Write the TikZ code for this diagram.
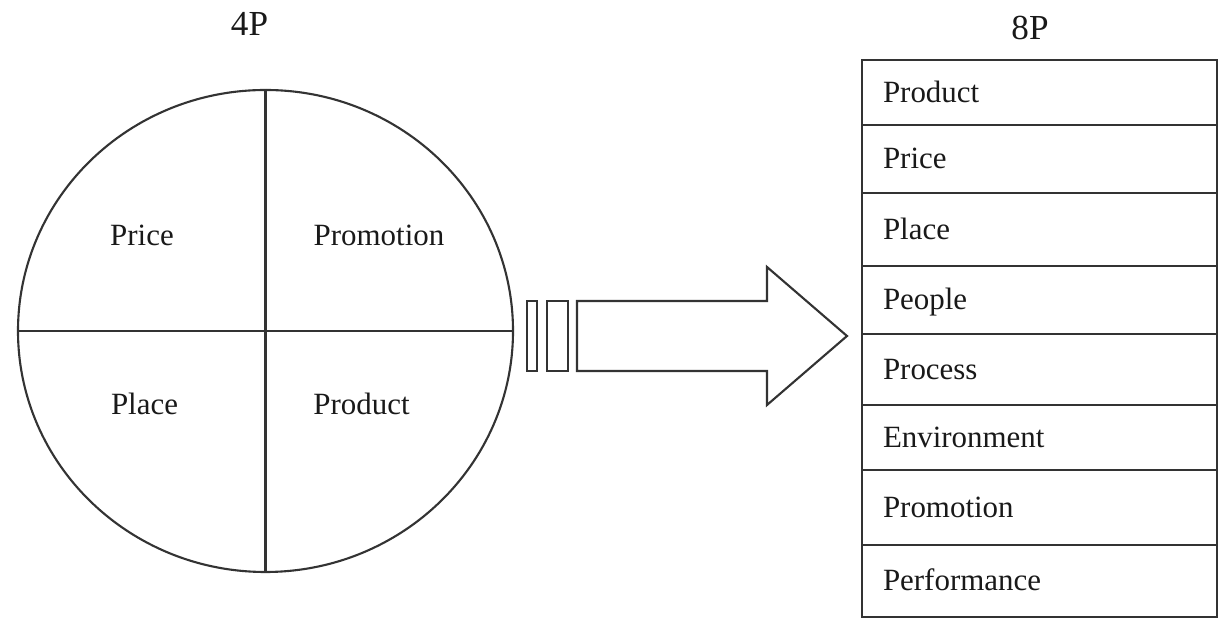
\documentclass[tikz,border=0pt]{standalone}
\usepackage{fontspec}
\setmainfont{Liberation Serif}
\usepackage{tikz}
\usetikzlibrary{shapes.geometric}

\begin{document}
\begin{tikzpicture}[line width=1.2pt,color=black!80,
  label node/.style={font=\fontsize{17.6}{20}\selectfont,text=black!90,text height=12.8pt,text depth=1.5pt,inner sep=0pt},
  title node/.style={font=\fontsize{20}{24}\selectfont,text=black!90,inner sep=0pt},
  row node/.style={label node,draw,rectangle,minimum width=7.1cm,text width=6.26cm,inner xsep=0.42cm,align=left}]

\useasboundingbox (0,0) rectangle (24.4,12.42);

% 4P circle
\node[title node] (t4) at (4.99,11.94) {4P};
\node[draw,ellipse,inner sep=0pt,minimum width=9.9cm,minimum height=9.64cm] (mix) at (5.31,5.80) {};
\draw (mix.north) -- (mix.south);
\draw (mix.west) -- (mix.east);

\node[label node] (q1) at (2.84,7.71) {Price};
\node[label node] (q2) at (7.58,7.71) {Promotion};
\node[label node] (q3) at (2.89,4.32) {Place};
\node[label node] (q4) at (7.23,4.32) {Product};

% block arrow
\draw (10.54,5.00) rectangle (10.74,6.40);
\draw (10.94,5.00) rectangle (11.36,6.40);
\draw (11.54,5.00) -- (11.54,6.40) -- (15.34,6.40) -- (15.34,7.08)
  -- (16.94,5.70) -- (15.34,4.32) -- (15.34,5.00) -- cycle;

% 8P table
\node[title node] (t8) at (20.60,11.87) {8P};
\foreach \name/\txt/\yc/\h in {r1/Product/10.57/1.30, r2/Price/9.24/1.36,
    r3/Place/7.83/1.46, r4/People/6.42/1.36, r5/Process/5.03/1.42,
    r6/Environment/3.67/1.30, r7/Promotion/2.27/1.50, r8/Performance/0.80/1.44}
  \node[row node,minimum height=\h cm] (\name) at (20.79,\yc) {\txt};

\end{tikzpicture}
\end{document}
